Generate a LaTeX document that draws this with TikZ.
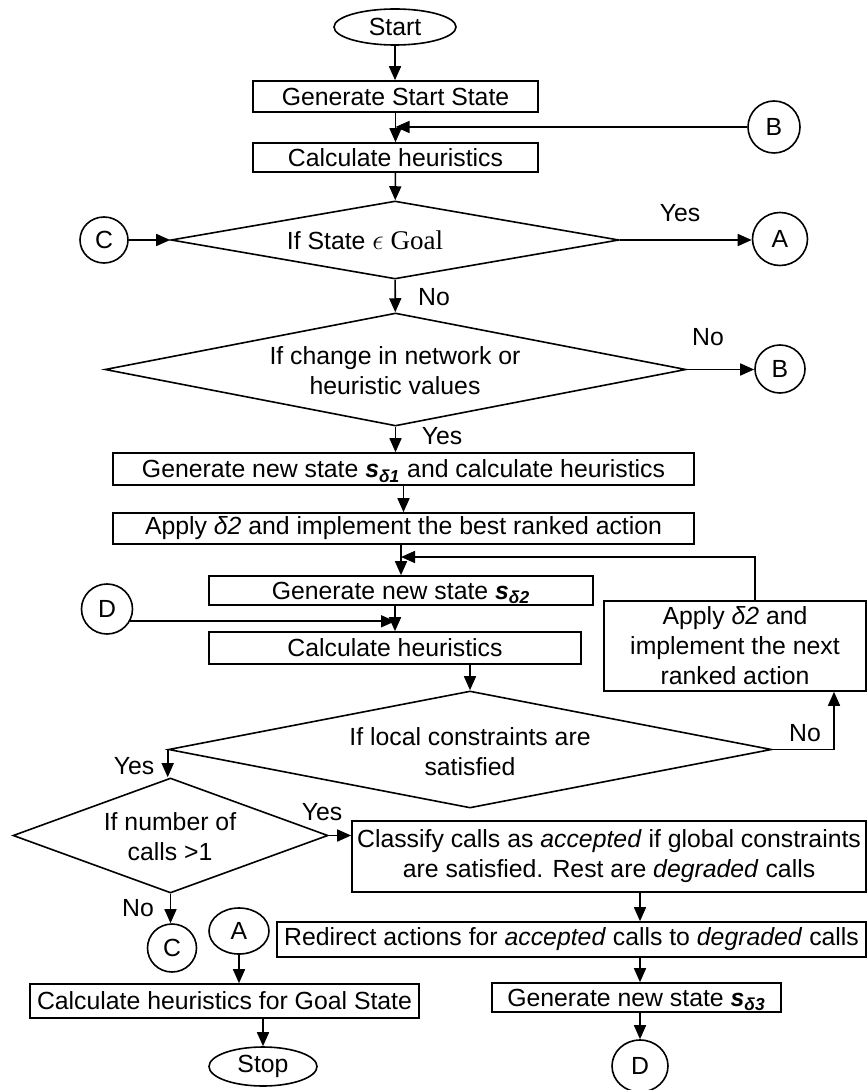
\documentclass[tikz,border=0pt]{standalone}
\usepackage{fontspec}
\setmainfont{Liberation Sans}
\newfontfamily\tnr{Liberation Serif}
\usetikzlibrary{shapes.geometric,arrows.meta}
\newcommand{\subsd}[1]{\smash{\textsubscript{\textbf{\textit{#1}}}}}
\begin{document}
\begin{tikzpicture}[x=0.5pt,y=-0.5pt,
  every node/.style={font=\fontsize{12.4pt}{15pt}\selectfont},
  lw/.style={line width=0.8pt},
  box/.style={draw,lw,rectangle,inner sep=0pt,align=center},
  dia/.style={draw,lw,diamond,inner sep=0pt},
  ell/.style={draw,lw,ellipse,inner sep=0pt},
  arr/.style={lw,-{Triangle[length=7pt,width=6pt]}},
  lbl/.style={inner sep=0pt,align=center}]
\useasboundingbox (0,0) rectangle (867,1090);

% nodes
\node[ell,minimum width=61pt,minimum height=18pt] (start) at (395,27) {Start};
\node[box,minimum width=142.5pt,minimum height=15.5pt] (gss) at (395.5,96.5) {Generate Start State};
\node[ell,minimum width=26pt,minimum height=26pt] (b1) at (774,127) {B};
\node[box,minimum width=142.5pt,minimum height=14.5pt] (ch1) at (395.5,157.5) {Calculate heuristics};
\node[dia,minimum width=224pt,minimum height=39pt] (d1) at (395,240) {};
\node[lbl] (t1) at (365,240) {If State {\tnr\fontsize{13.5pt}{15pt}\selectfont $\epsilon$ Goal}};
\node[ell,minimum width=24pt,minimum height=23pt] (c1) at (104,240) {C};
\node[ell,minimum width=27.5pt,minimum height=26.5pt] (a1) at (780,239) {A};
\node[dia,minimum width=290.5pt,minimum height=56.5pt] (d2) at (395.5,369.5) {};
\node[lbl] (t2) at (395,371) {If change in network or\\heuristic values};
\node[ell,minimum width=25pt,minimum height=24pt] (b2) at (780,369) {B};
\node[box,minimum width=290.5pt,minimum height=16pt] (s1) at (403.5,469) {Generate new state \textbf{\textit{s}}\subsd{δ1} and calculate heuristics};
\node[box,minimum width=290.5pt,minimum height=15.5pt] (ap1) at (403.5,528.5) {Apply \textit{δ2} and implement the best ranked action};
\node[box,minimum width=192pt,minimum height=14.5pt] (s2) at (401,590.5) {Generate new state \textbf{\textit{s}}\subsd{δ2}};
\node[ell,minimum width=25.5pt,minimum height=25pt] (dc) at (107,609) {D};
\node[box,minimum width=186pt,minimum height=16pt] (ch2) at (395,648) {Calculate heuristics};
\node[box,minimum width=131pt,minimum height=45pt] (r) at (735,646) {Apply \textit{δ2} and\\implement the next\\ranked action};
\node[dia,minimum width=301.5pt,minimum height=58.5pt] (d3) at (470,749.5) {};
\node[lbl] (t3) at (470,752) {If local constraints are\\satisfied};
\node[dia,minimum width=157.5pt,minimum height=57.5pt] (d4) at (170.5,835.5) {};
\node[lbl] (t4) at (170,837) {If number of\\calls >1};
\node[box,minimum width=257pt,minimum height=35.5pt] (cl) at (609,856.5) {Classify calls as \textit{accepted} if global constraints\\are satisfied. Rest are \textit{degraded} calls};
\node[ell,minimum width=24.5pt,minimum height=24pt] (c2) at (172,948) {C};
\node[ell,minimum width=30pt,minimum height=23pt] (a2) at (239,931) {A};
\node[box,minimum width=194.5pt,minimum height=17pt] (goal) at (224.5,1001) {Calculate heuristics for Goal State};
\node[ell,minimum width=54pt,minimum height=19.5pt] (stop) at (263,1066.5) {Stop};
\node[box,minimum width=294.5pt,minimum height=17.5pt] (rd) at (571.5,939.5) {Redirect actions for \textit{accepted} calls to \textit{degraded} calls};
\node[box,minimum width=144.5pt,minimum height=14.5pt] (s3) at (636.5,997.5) {Generate new state \textbf{\textit{s}}\subsd{δ3}};
\node[ell,minimum width=28pt,minimum height=26pt] (d5) at (640,1066) {D};

% labels
\node[lbl] (y1) at (680,213) {Yes};
\node[lbl] (n1) at (434,297) {No};
\node[lbl] (n2) at (708,337) {No};
\node[lbl] (y2) at (442,436) {Yes};
\node[lbl] (n3) at (805,733) {No};
\node[lbl] (y3) at (134,766) {Yes};
\node[lbl] (y4) at (322,812) {Yes};
\node[lbl] (n4) at (138,908) {No};

% connectors
\coordinate (fb) at (755,557);
\coordinate (nb) at (834,691);
\draw[arr] (start) -- (start |- gss.north);
\draw[arr] (gss) -- (ch1);
\draw[arr] (b1) -- (b1 -| gss.south);
\draw[arr] (ch1) -- (d1);
\draw[arr] (c1) -- (d1.west);
\draw[arr] (d1.east) -- (d1.east -| a1.west);
\draw[arr] (d1) -- (d2);
\draw[arr] (d2.east) -- (d2.east -| b2.west);
\draw[arr] (d2.south) -- (d2.south |- s1.north);
\draw[arr] (s1) -- (ap1);
\draw[arr] (s2.north |- ap1.south) -- (s2.north);
\draw[arr] (fb |- r.north) -- (fb) -- (fb -| s2.north);
\draw[arr] (ch2.north |- s2.south) -- (ch2.north);
\draw[arr] (dc.-28) -- (dc.-28 -| ch2.north);
\draw[arr] (d3.north |- ch2.south) -- (d3.north);
\draw[arr] (d3.east) -| (r.south -| nb);
\draw[arr] (d3.west) -- (d3.west |- d4.north);
\draw[arr] (d4.east) -- (d4.east -| cl.west);
\draw[arr] (d4.south) -- (d4.south |- c2.north);
\draw[arr] (a2) -- (a2 |- goal.north);
\draw[arr] (stop.north |- goal.south) -- (stop);
\draw[arr] (d5.north |- cl.south) -- (d5.north |- rd.north);
\draw[arr] (d5.north |- rd.south) -- (d5.north |- s3.north);
\draw[arr] (d5.north |- s3.south) -- (d5);
\end{tikzpicture}
\end{document}
